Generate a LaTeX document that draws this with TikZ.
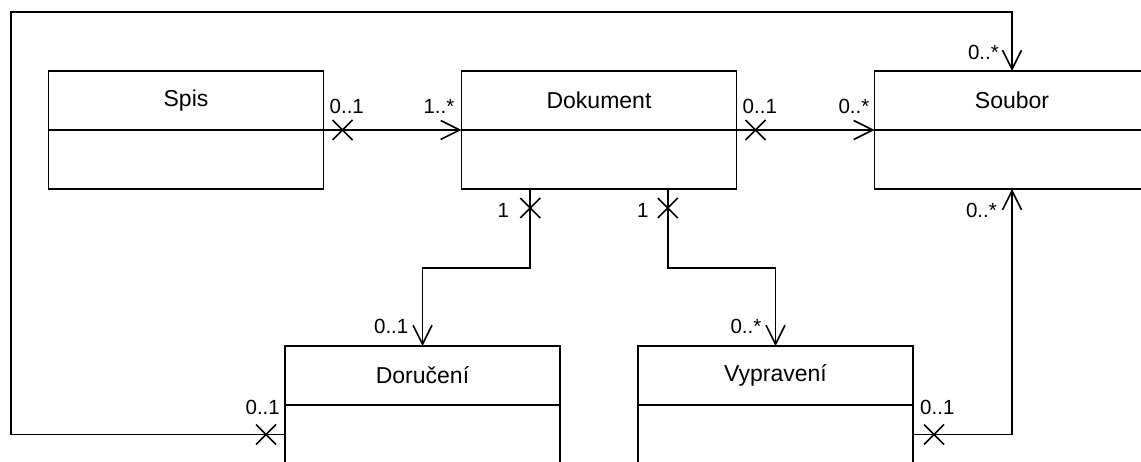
\documentclass[tikz,border=0pt]{standalone}
\usepackage{fontspec}
\setmainfont{Liberation Sans}
\usetikzlibrary{arrows.meta,positioning,calc,decorations.markings}

\begin{document}
\begin{tikzpicture}[
  x=1pt, y=-1pt,
  node distance=0pt and 138pt,
  cls/.style={draw, line width=1.6pt, outer sep=0pt, minimum width=275pt, minimum height=59pt, font=\fontsize{23}{27}\selectfont},
  cbody/.style={draw, line width=1.6pt, outer sep=0pt, minimum width=275pt, minimum height=59pt},
  mult/.style={inner sep=0pt, font=\fontsize{20.5}{24}\selectfont},
  link/.style={line width=1.6pt, -{Straight Barb[length=19pt, width=19pt, line width=1.6pt]}},
  cross/.style={postaction={decorate, decoration={markings, mark=at position #1 with {\draw[-, line width=1.6pt] (-10pt,-10pt) -- (10pt,10pt) (-10pt,10pt) -- (10pt,-10pt);}}}},
  cross/.default=19pt
]
\useasboundingbox (0,0) rectangle (1141,462);
\clip (0,0) rectangle (1141,462);
\node[cls] (spis) at (186,100.5) {Spis};
\node[cbody, below=of spis] (spis-b) {};
\node[cls, right=of spis] (dok) {Dokument};
\node[cbody, below=of dok] (dok-b) {};
\node[cls, right=of dok] (soubor) {Soubor};
\node[cbody, below=of soubor] (soubor-b) {};
\node[cls] (dor) at (422.5,375.5) {Doručení};
\node[cbody, below=of dor] (dor-b) {};
\node[cls, right=78pt of dor] (vyp) {Vypravení};
\node[cbody, below=of vyp] (vyp-b) {};
\coordinate (d1) at ($(dok-b.south west)!.25!(dok-b.south east)$);
\coordinate (d2) at ($(dok-b.south west)!.75!(dok-b.south east)$);
\coordinate (roh) at (11,12);
% spojnice
\draw[link, cross] (spis.south east) -- (dok.south west);
\draw[link, cross] (dok.south east) -- (soubor.south west);
\draw[link, cross] (d1) -- ++(0,79) -| (dor.north);
\draw[link, cross] (d2) -- ++(0,79) -| (vyp.north);
\draw[link, cross] (dor-b.west) -| (roh) -| (soubor.north);
\draw[link, cross=21pt] (vyp-b.east) -| (soubor-b.south);
% nasobnosti
\node[mult, anchor=base west] (m1) at ([xshift=6pt, yshift=16pt]spis.south east) {0..1};
\node[mult, anchor=base east] (m2) at ([xshift=-7pt, yshift=16pt]dok.south west) {1..*};
\node[mult, anchor=base west] (m3) at ([xshift=6pt, yshift=16pt]dok.south east) {0..1};
\node[mult, anchor=base east] (m4) at ([xshift=-5pt, yshift=16pt]soubor.south west) {0..*};
\node[mult, anchor=base east] (m5) at ([xshift=-13pt, yshift=11pt]soubor.north) {0..*};
\node[mult, anchor=base east] (m6) at ([xshift=-15pt, yshift=-29pt]soubor-b.south) {0..*};
\node[mult, anchor=base east] (m7) at ([xshift=-21pt, yshift=-29pt]d1) {1};
\node[mult, anchor=base east] (m8) at ([xshift=-19pt, yshift=-29pt]d2) {1};
\node[mult, anchor=base east] (m9) at ([xshift=-14pt, yshift=12pt]dor.north) {0..1};
\node[mult, anchor=base east] (m10) at ([xshift=-14pt, yshift=12pt]vyp.north) {0..*};
\node[mult, anchor=base east] (m11) at ([xshift=-5pt, yshift=20pt]dor-b.west) {0..1};
\node[mult, anchor=base west] (m12) at ([xshift=7pt, yshift=20pt]vyp-b.east) {0..1};
\end{tikzpicture}
\end{document}
